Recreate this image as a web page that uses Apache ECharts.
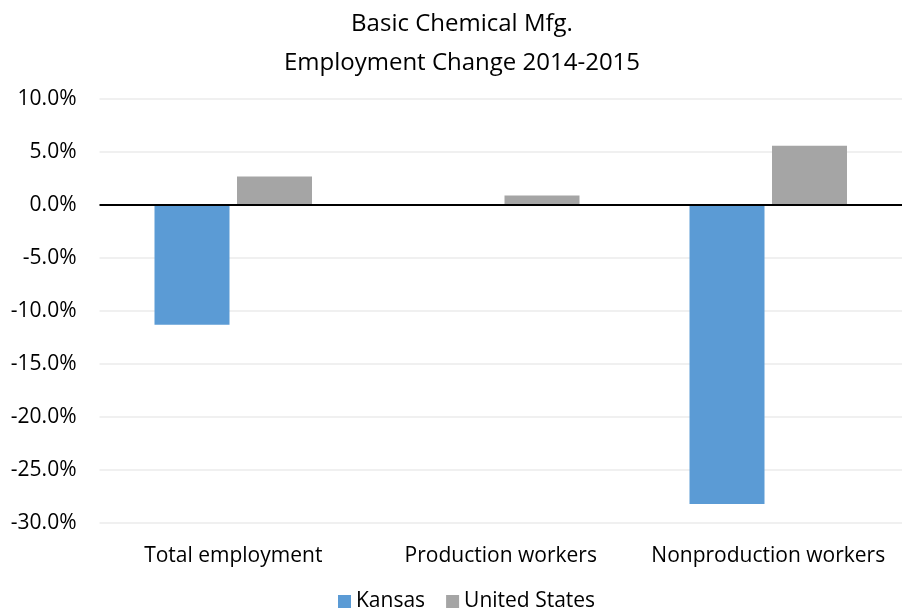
<!DOCTYPE html>
<html><head><meta charset="utf-8">
<script src="https://cdn.jsdelivr.net/npm/echarts@6/dist/echarts.min.js"></script>
<style>html,body{margin:0;padding:0;background:#fff}#c{width:902px;height:609px}</style>
</head><body><div id="c"></div>
<script>
var categories = ['Total employment', 'Production workers', 'Nonproduction workers'];
var kansas = [-11.3, 0, -28.2];
var unitedStates = [2.7, 0.9, 5.6];
var seriesNames = ['Kansas', 'United States'];
var titleLines = ['Basic Chemical Mfg.', 'Employment Change 2014-2015'];

var FONT = 'Open Sans';
var chart = echarts.init(document.getElementById('c'), null, {renderer: 'canvas'});
chart.setOption({
  backgroundColor: '#ffffff',
  animation: false,
  graphic: [
    {type: 'text', x: 462, y: 12, style: {text: titleLines[0], textAlign: 'center', textVerticalAlign: 'top',
      font: '24px "Open Sans"', fill: '#000'}},
    {type: 'text', x: 462, y: 51, style: {text: titleLines[1], textAlign: 'center', textVerticalAlign: 'top',
      font: '24px "Open Sans"', fill: '#000'}}
  ],
  legend: {
    data: seriesNames, left: 333, top: 586, itemWidth: 13, itemHeight: 13, itemGap: 21,
    icon: 'rect',
    textStyle: {fontFamily: FONT, fontSize: 21, color: '#000'}
  },
  grid: {left: 99.5, width: 808.5, top: 99, bottom: 86, containLabel: false},
  xAxis: {
    type: 'category', data: categories,
    axisLine: {show: false, onZero: false}, axisTick: {show: false},
    axisLabel: {fontFamily: FONT, fontSize: 21, color: '#000', margin: 23, interval: 0}
  },
  yAxis: {
    type: 'value', min: -30, max: 10, interval: 5,
    axisLine: {show: false}, axisTick: {show: false},
    splitLine: {lineStyle: {color: '#EBEBEB', width: 1.5}},
    axisLabel: {fontFamily: FONT, fontSize: 21, color: '#000', margin: 23,
      formatter: function (v) { return v.toFixed(1) + '%'; }}
  },
  series: [
    {name: seriesNames[0], type: 'bar', data: kansas, barWidth: 75, barGap: '10%',
      itemStyle: {color: '#5B9BD5'},
      markLine: {silent: true, symbol: 'none', label: {show: false},
        lineStyle: {color: '#000', width: 2, type: 'solid'}, data: [{yAxis: 0}]}},
    {name: seriesNames[1], type: 'bar', data: unitedStates, barWidth: 75, barGap: '10%',
      itemStyle: {color: '#A5A5A5'}}
  ]
});
</script></body></html>
